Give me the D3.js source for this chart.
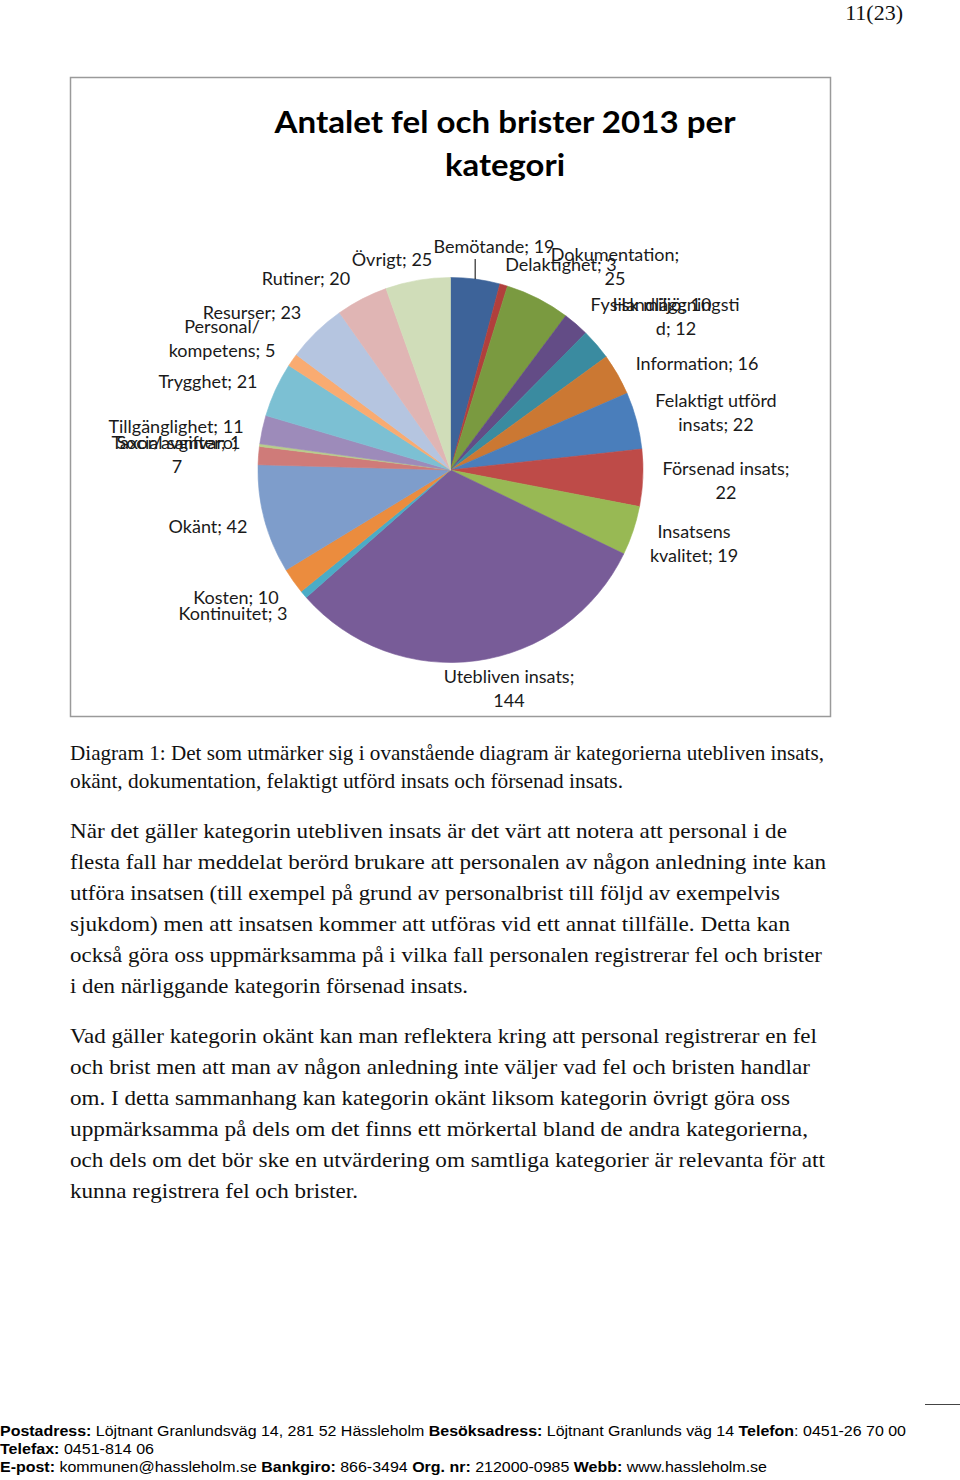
<!DOCTYPE html>
<html>
<head>
<meta charset="utf-8">
<script src="https://cdn.jsdelivr.net/npm/d3@7"></script>
<style>
  html, body { margin: 0; padding: 0; background: #fff; }
  svg { display: block; }
</style>
</head>
<body>
<svg id="page" width="960" height="1480"></svg>
<script>
// ---------------- DATA ----------------
const categories = [
  "Bemötande", "Delaktighet", "Dokumentation", "Fysisk miljö", "Handläggningstid",
  "Information", "Felaktigt utförd insats", "Försenad insats", "Insatsens kvalitet",
  "Utebliven insats", "Kontinuitet", "Kosten", "Okänt", "Social samvaro",
  "Taxor/avgifter", "Tillgänglighet", "Trygghet", "Personal/kompetens",
  "Resurser", "Rutiner", "Övrigt"
];
const values = [19, 3, 25, 10, 12, 16, 22, 22, 19, 144, 3, 10, 42, 7, 1, 11, 21, 5, 23, 20, 25];
const sliceColors = [
  "#3D6399", "#B13F3C", "#7A9A40", "#634C86", "#3A8BA0", "#CB7833",
  "#4A7EBB", "#BE4B48", "#98B954", "#785C98", "#4BACC6", "#EB8C3E",
  "#7E9DCB", "#CF7B79", "#B8CD8C", "#9D8BBA", "#7CC0D3", "#F9AB71",
  "#B5C5E0", "#E0B5B4", "#D0DDB9"
];
const chartTitle = ["Antalet fel och brister 2013 per", "kategori"];

const captionLines = [
  "Diagram 1: Det som utmärker sig i ovanstående diagram är kategorierna utebliven insats,",
  "okänt, dokumentation, felaktigt utförd insats och försenad insats."
];
const para1Lines = [
  "När det gäller kategorin utebliven insats är det värt att notera att personal i de",
  "flesta fall har meddelat berörd brukare att personalen av någon anledning inte kan",
  "utföra insatsen (till exempel på grund av personalbrist till följd av exempelvis",
  "sjukdom) men att insatsen kommer att utföras vid ett annat tillfälle. Detta kan",
  "också göra oss uppmärksamma på i vilka fall personalen registrerar fel och brister",
  "i den närliggande kategorin försenad insats."
];
const para2Lines = [
  "Vad gäller kategorin okänt kan man reflektera kring att personal registrerar en fel",
  "och brist men att man av någon anledning inte väljer vad fel och bristen handlar",
  "om. I detta sammanhang kan kategorin okänt liksom kategorin övrigt göra oss",
  "uppmärksamma på dels om det finns ett mörkertal bland de andra kategorierna,",
  "och dels om det bör ske en utvärdering om samtliga kategorier är relevanta för att",
  "kunna registrera fel och brister."
];
const footerLines = [
  [["Postadress: ", true], ["Löjtnant Granlundsväg 14, 281 52 Hässleholm ", false], ["Besöksadress: ", true], ["Löjtnant Granlunds väg 14 ", false], ["Telefon", true], [": 0451-26 70 00", false]],
  [["Telefax: ", true], ["0451-814 06", false]],
  [["E-post: ", true], ["kommunen@hassleholm.se ", false], ["Bankgiro: ", true], ["866-3494 ", false], ["Org. nr: ", true], ["212000-0985 ", false], ["Webb: ", true], ["www.hassleholm.se", false]]
];
const pageNumber = "11(23)";

// ---------------- LAYOUT (positions only) ----------------
// label anchor (center x, baseline y) and optional line-break index
const labelLayout = [
  {x: 494, y: 253},            // Bemötande
  {x: 561, y: 271},            // Delaktighet
  {x: 615, y: 261, brk: 14},   // Dokumentation
  {x: 651, y: 311},            // Fysisk miljö
  {x: 676, y: 311, brk: 15},   // Handläggningstid
  {x: 697, y: 370},            // Information
  {x: 716, y: 407, brk: 16},   // Felaktigt utförd insats
  {x: 726, y: 475, brk: 16},   // Försenad insats
  {x: 694, y: 538, brk: 9},    // Insatsens kvalitet
  {x: 509, y: 683, brk: 17},   // Utebliven insats
  {x: 233, y: 620},            // Kontinuitet
  {x: 236, y: 604},            // Kosten
  {x: 208, y: 533},            // Okänt
  {x: 177, y: 449, brk: 15},   // Social samvaro
  {x: 176, y: 449},            // Taxor/avgifter
  {x: 176, y: 433},            // Tillgänglighet
  {x: 208, y: 388},            // Trygghet
  {x: 222, y: 333, brk: 9},    // Personal/kompetens
  {x: 252, y: 319},            // Resurser
  {x: 306, y: 285},            // Rutiner
  {x: 392, y: 266}             // Övrigt
];

const svg = d3.select("#page");

// page number
svg.append("text")
  .attr("x", 903).attr("y", 20)
  .attr("text-anchor", "end")
  .attr("font-family", "Liberation Serif, serif")
  .attr("font-size", 22)
  .attr("fill", "#111")
  .text(pageNumber);

// chart frame
const frame = {x: 70.5, y: 77.5, w: 760, h: 639};
svg.append("rect")
  .attr("x", frame.x).attr("y", frame.y)
  .attr("width", frame.w).attr("height", frame.h)
  .attr("fill", "#fff")
  .attr("stroke", "#9a9a9a")
  .attr("stroke-width", 1.5);

// title
const titleG = svg.append("g")
  .attr("font-family", "Lato, 'Open Sans', sans-serif")
  .attr("font-weight", "bold")
  .attr("font-size", 31)
  .attr("fill", "#000")
  .attr("text-anchor", "middle");
titleG.append("text").attr("x", 505).attr("y", 133)
  .attr("textLength", 461).attr("lengthAdjust", "spacingAndGlyphs")
  .text(chartTitle[0]);
titleG.append("text").attr("x", 505).attr("y", 176)
  .attr("textLength", 120).attr("lengthAdjust", "spacingAndGlyphs")
  .text(chartTitle[1]);

// pie
const cx = 450.5, cy = 470, radius = 192.5;
const pie = d3.pie().sort(null).value(d => d)
  .startAngle(0).endAngle(2 * Math.PI);
const arcs = pie(values);
const arc = d3.arc().innerRadius(0).outerRadius(radius);
const color = d3.scaleOrdinal().domain(categories).range(sliceColors);

const pieG = svg.append("g").attr("transform", `translate(${cx},${cy})`);
pieG.selectAll("path")
  .data(arcs)
  .join("path")
  .attr("d", arc)
  .attr("fill", (d, i) => color(categories[i]))
  .attr("stroke", (d, i) => color(categories[i]))
  .attr("stroke-width", 0.6);

// leader line for Bemötande (from label to slice edge)
{
  const a = arcs[0];
  const mid = (a.startAngle + a.endAngle) / 2;
  const ex = cx + Math.sin(mid) * radius * 0.99;
  const ey = cy - Math.cos(mid) * radius * 1.0;
  svg.append("line")
    .attr("x1", ex).attr("y1", labelLayout[0].y + 6)
    .attr("x2", ex).attr("y2", ey)
    .attr("stroke", "#000").attr("stroke-width", 1);
}

// labels
const labelG = svg.append("g")
  .attr("font-family", "Lato, 'Open Sans', sans-serif")
  .attr("font-size", 18)
  .attr("fill", "#1a1a1a")
  .attr("text-anchor", "middle");
categories.forEach((c, i) => {
  const s = `${c}; ${values[i]}`;
  const L = labelLayout[i];
  const lines = L.brk ? [s.slice(0, L.brk).trim(), s.slice(L.brk).trim()] : [s];
  const t = labelG.append("text").attr("x", L.x).attr("y", L.y);
  lines.forEach((ln, k) => {
    t.append("tspan").attr("x", L.x).attr("dy", k === 0 ? 0 : 24).text(ln);
  });
});

// body text
const bodyG = svg.append("g")
  .attr("font-family", "Liberation Serif, 'DejaVu Serif', serif")
  .attr("font-size", 21)
  .attr("fill", "#111");
function block(lines, y0, step, widths) {
  lines.forEach((ln, i) => {
    bodyG.append("text")
      .attr("x", 70).attr("y", y0 + i * step)
      .attr("textLength", widths[i]).attr("lengthAdjust", "spacingAndGlyphs")
      .text(ln);
  });
}
block(captionLines, 760, 28, [754, 553]);
block(para1Lines, 838, 31, [717, 756, 710, 720, 752, 398]);
block(para2Lines, 1043, 31, [747, 740, 720, 738, 755, 288]);

// footer
svg.append("line")
  .attr("x1", 925).attr("x2", 960).attr("y1", 1404.5).attr("y2", 1404.5)
  .attr("stroke", "#444").attr("stroke-width", 1);
const footWidths = [906, 154, 767];
const footY = [1436, 1454, 1472];
footerLines.forEach((parts, i) => {
  const t = svg.append("text")
    .attr("x", 0).attr("y", footY[i])
    .attr("font-family", "Liberation Sans, Arial, sans-serif")
    .attr("font-size", 15.5)
    .attr("fill", "#000")
    .attr("textLength", footWidths[i]).attr("lengthAdjust", "spacingAndGlyphs");
  parts.forEach(([txt, bold]) => {
    t.append("tspan").attr("font-weight", bold ? "bold" : "normal").text(txt);
  });
});
</script>
</body>
</html>
